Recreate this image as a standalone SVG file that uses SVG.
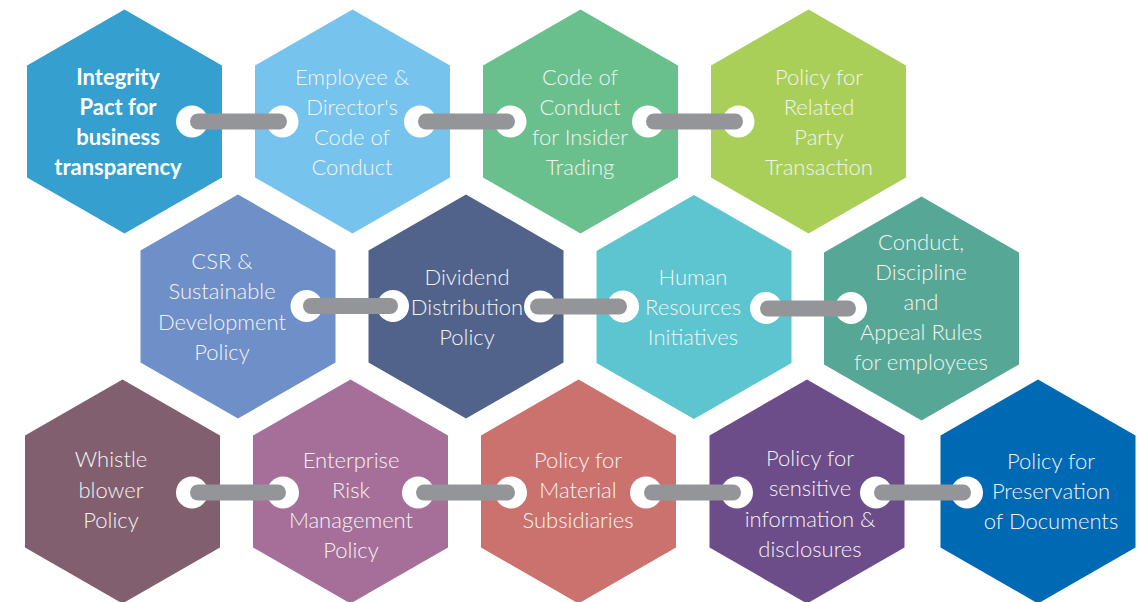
<svg xmlns="http://www.w3.org/2000/svg" width="1139" height="602" viewBox="0 0 1139 602">
<style>
.t{font-family:Lato,"Liberation Sans",sans-serif;font-size:22px;fill:#f3f3f3;text-anchor:middle;font-weight:300}
.b{font-weight:700;fill:#ffffff}
.bar{stroke:#939598;stroke-width:16;stroke-linecap:round;fill:none}
.dot{fill:#ffffff}
</style>
<defs>
<polygon id="hex" points="0,-112 97.5,-56 97.5,56 0,112 -97.5,56 -97.5,-56"/>
</defs>
<rect width="1139" height="602" fill="#ffffff"/>
<g id="n1"><use href="#hex" x="124.5" y="121.5" fill="#35a0cf"/><text class="t b" x="118" y="84.5">Integrity</text><text class="t b" x="118" y="114.5">Pact for</text><text class="t b" x="118" y="144.5">business</text><text class="t b" x="118" y="174.5">transparency</text></g>
<g id="n2"><use href="#hex" x="352.5" y="121.5" fill="#76c4ee"/><text class="t" x="352" y="84.5">Employee &amp;</text><text class="t" x="352" y="114.5">Director's</text><text class="t" x="352" y="144.5">Code of</text><text class="t" x="352" y="174.5">Conduct</text></g>
<g id="n3"><use href="#hex" x="580.5" y="121.5" fill="#69c08d"/><text class="t" x="580" y="84.5">Code of</text><text class="t" x="580" y="114.5">Conduct</text><text class="t" x="580" y="144.5">for Insider</text><text class="t" x="580" y="174.5">Trading</text></g>
<g id="n4"><use href="#hex" x="808.5" y="121.5" fill="#a9cf58"/><text class="t" x="819" y="84.5">Policy for</text><text class="t" x="819" y="114.5">Related</text><text class="t" x="819" y="144.5">Party</text><text class="t" x="819" y="174.5">Transaction</text></g>
<g id="n5"><use href="#hex" x="238" y="306.5" fill="#6f8fc8"/><text class="t" x="222" y="269">CSR &amp;</text><text class="t" x="222" y="299">Sustainable</text><text class="t" x="222" y="330">Development</text><text class="t" x="222" y="360">Policy</text></g>
<g id="n6"><use href="#hex" x="466" y="306.5" fill="#51638b"/><text class="t" x="467" y="285">Dividend</text><text class="t" x="467" y="315">Distribution</text><text class="t" x="467" y="345">Policy</text></g>
<g id="n7"><use href="#hex" x="694" y="307" fill="#5cc5d0"/><text class="t" x="693" y="285">Human</text><text class="t" x="693" y="315">Resources</text><text class="t" x="693" y="345">Initiatives</text></g>
<g id="n8"><use href="#hex" x="921.5" y="308.5" fill="#57a796"/><text class="t" x="921" y="250">Conduct,</text><text class="t" x="921" y="280">Discipline</text><text class="t" x="921" y="310">and</text><text class="t" x="921" y="340">Appeal Rules</text><text class="t" x="921" y="370">for employees</text></g>
<g id="n9"><use href="#hex" x="122.5" y="491.5" fill="#825f6e"/><text class="t" x="111" y="467">Whistle</text><text class="t" x="111" y="498">blower</text><text class="t" x="111" y="528">Policy</text></g>
<g id="n10"><use href="#hex" x="350.5" y="491.5" fill="#a66f99"/><text class="t" x="351" y="468">Enterprise</text><text class="t" x="351" y="498">Risk</text><text class="t" x="351" y="528">Management</text><text class="t" x="351" y="558">Policy</text></g>
<g id="n11"><use href="#hex" x="578.5" y="491.5" fill="#cb726e"/><text class="t" x="578" y="468">Policy for</text><text class="t" x="578" y="498">Material</text><text class="t" x="578" y="528">Subsidiaries</text></g>
<g id="n12"><use href="#hex" x="807" y="491.5" fill="#6c4c89"/><text class="t" x="810" y="466">Policy for</text><text class="t" x="810" y="496">sensitive</text><text class="t" x="810" y="527">information &amp;</text><text class="t" x="810" y="557">disclosures</text></g>
<g id="n13"><use href="#hex" x="1038" y="491.5" fill="#0069b4"/><text class="t" x="1051" y="469">Policy for</text><text class="t" x="1051" y="499">Preservation</text><text class="t" x="1051" y="529">of Documents</text></g>
<g id="connectors">
<circle class="dot" cx="192" cy="121.5" r="16"/><circle class="dot" cx="282.5" cy="121.5" r="16"/><line class="bar" x1="198" y1="121.5" x2="279" y2="121.5"/>
<circle class="dot" cx="420" cy="121.5" r="16"/><circle class="dot" cx="510.5" cy="121.5" r="16"/><line class="bar" x1="426" y1="121.5" x2="507" y2="121.5"/>
<circle class="dot" cx="648" cy="121.5" r="16"/><circle class="dot" cx="738.5" cy="121.5" r="16"/><line class="bar" x1="654" y1="121.5" x2="735" y2="121.5"/>
<circle class="dot" cx="306.5" cy="306" r="16"/><circle class="dot" cx="393" cy="306" r="16"/><line class="bar" x1="311" y1="306" x2="390" y2="306"/>
<circle class="dot" cx="540" cy="306.5" r="16"/><circle class="dot" cx="623" cy="306.5" r="16"/><line class="bar" x1="538" y1="306.5" x2="619" y2="306.5"/>
<circle class="dot" cx="766" cy="308" r="16"/><circle class="dot" cx="851" cy="308" r="16"/><line class="bar" x1="768" y1="308.5" x2="848" y2="308.5"/>
<circle class="dot" cx="192" cy="492.5" r="16"/><circle class="dot" cx="283" cy="492.5" r="16"/><line class="bar" x1="198" y1="492.5" x2="278" y2="492.5"/>
<circle class="dot" cx="418" cy="492.5" r="16"/><circle class="dot" cx="511" cy="492.5" r="16"/><line class="bar" x1="424" y1="492.5" x2="507" y2="492.5"/>
<circle class="dot" cx="646" cy="492.5" r="16"/><circle class="dot" cx="737" cy="492.5" r="16"/><line class="bar" x1="652" y1="492.5" x2="733" y2="492.5"/>
<circle class="dot" cx="876" cy="492.5" r="16"/><circle class="dot" cx="967" cy="492.5" r="16"/><line class="bar" x1="882" y1="492.5" x2="963" y2="492.5"/>
</g>
</svg>
